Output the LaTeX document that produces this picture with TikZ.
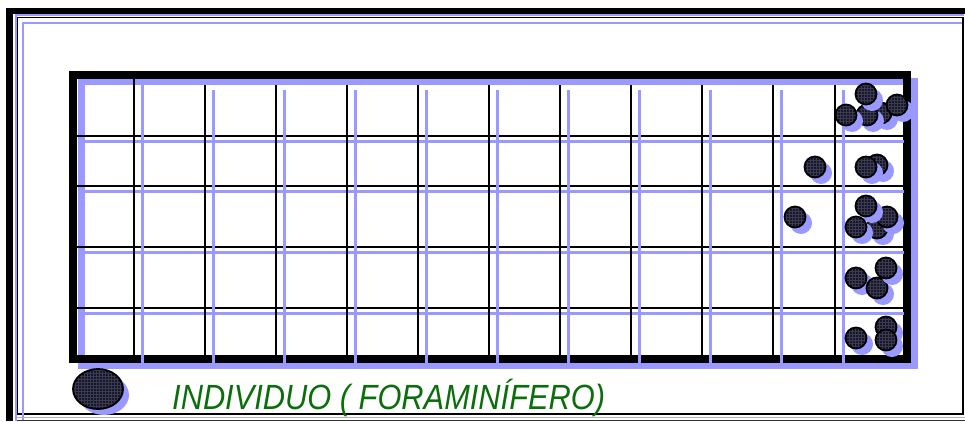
\documentclass[tikz,border=0pt]{standalone}
\usepackage{fontspec}
\usetikzlibrary{patterns}
\newfontfamily\legendfont{Liberation Sans}
\definecolor{shadowblue}{RGB}{153,153,255}
\definecolor{legendgreen}{RGB}{10,110,10}
\definecolor{foramfill}{RGB}{22,22,48}
\tikzset{
  frameblue/.style={draw=shadowblue, line width=2pt},
  gridblack/.style={draw=black, line width=2pt},
  gridblue/.style={draw=shadowblue, line width=3pt},
  foramshadow/.style={fill=shadowblue},
  foram/.style={draw=black, line width=1.8pt, preaction={fill=foramfill},
    pattern=grid, pattern color=foramfill!65!gray},
}
\newcommand{\foramdot}[3]{%
  \fill[foramshadow] (#1+6,#2+6) circle (11);
  \path[foram] (#1,#2) circle (10.5) node (#3) {};
}
\begin{document}
\begin{tikzpicture}[x=1pt,y=-1pt]
\useasboundingbox (0,0) rectangle (965,421);
% outer frame
\fill[black] (6,8) rectangle (13,421);
\fill[black] (6,8) rectangle (965,14);
\draw[frameblue] (16,421) -- (16,15) -- (964,15);
\draw[black, line width=1.5pt] (17.5,17.5) rectangle (963,414);
\draw[frameblue] (23,421) -- (23,23) -- (962,23);
\draw[gray!60, line width=1pt] (17,417.5) -- (965,417.5);
\draw[black!80, line width=1pt] (17,420) -- (965,420);
% grid shadow and frame
\draw[shadowblue, line width=7pt] (81,81) rectangle (914,365);
\draw[black, line width=8pt] (73,75) rectangle (907,359);
% grid lines
\foreach \y in {136,186,247,308}{
  \draw[gridblack] (77,\y) -- (904,\y);
}
\foreach \y in {141,191,252,313}{
  \draw[gridblue] (78,\y) -- (904,\y);
}
\draw[gridblack] (134,79) -- (134,356);
\foreach \k in {1,...,9}{
  \draw[gridblack] (134+71*\k,85) -- (134+71*\k,356);
}
\draw[gridblack] (835,85) -- (835,356);
\draw[gridblue] (142,83) -- (142,365);
\foreach \k in {1,...,9}{
  \draw[gridblue] (142+71*\k,90) -- (142+71*\k,365);
}
\draw[gridblue] (843,90) -- (843,365);
% foraminifera
\foramdot{881}{113}{f1}
\foramdot{867}{115}{f2}
\foramdot{846}{115}{f3}
\foramdot{866}{94}{f4}
\foramdot{897}{105}{f5}
\foramdot{877}{165}{f6}
\foramdot{866}{167}{f7}
\foramdot{815}{167}{f8}
\foramdot{877}{228}{f9}
\foramdot{887}{217}{f10}
\foramdot{866}{206}{f11}
\foramdot{856}{227}{f12}
\foramdot{795}{217}{f13}
\foramdot{856}{278}{f14}
\foramdot{877}{288}{f15}
\foramdot{886}{268}{f16}
\foramdot{886}{327}{f17}
\foramdot{886}{340}{f18}
\foramdot{856}{338}{f19}
% legend
\fill[shadowblue] (104,395) ellipse (25 and 20);
\path[foram] (98,389) ellipse (25 and 20) node (legdot) {};
\node[anchor=base west, inner sep=0pt, text=legendgreen, font=\legendfont\itshape\fontsize{35}{36}\selectfont] (legtext) at (172,409) {\scalebox{0.88}[1]{INDIVIDUO ( FORAMINÍFERO)}};
\end{tikzpicture}
\end{document}
